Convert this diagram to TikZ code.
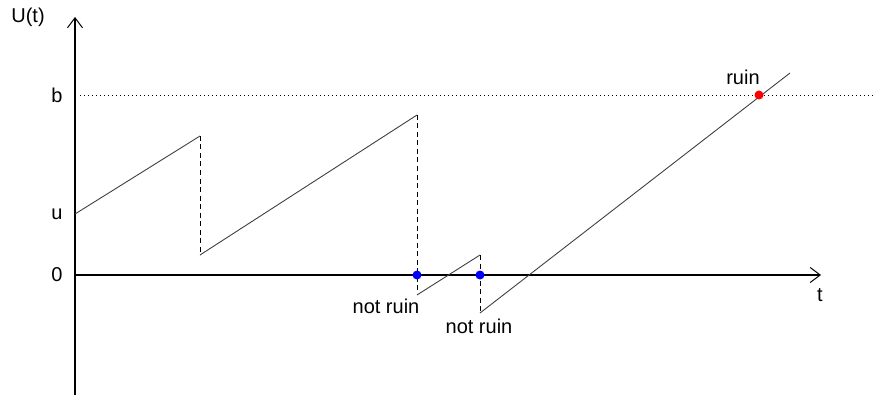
\documentclass[tikz,border=0pt]{standalone}
\usepackage{fontspec}
\setmainfont{Liberation Sans}
\usepackage{xcolor}
\usetikzlibrary{positioning, arrows.meta}

\begin{document}
\begin{tikzpicture}[x=1pt, y=1pt, every node/.style={font=\fontsize{20}{23}\selectfont, inner sep=0pt},
    axis/.style={line width=1.2pt, -{Straight Barb[length=10pt, width=15pt, line width=1pt]}},
    path/.style={line width=0.9pt, black!75},
    jump/.style={line width=0.9pt, dashed, dash pattern=on 5pt off 3.5pt},
    hit/.style={circle, inner sep=0pt, minimum size=9pt}]
    \useasboundingbox (0,0) rectangle (873,397);

    \coordinate (O) at (75,122);
    \coordinate (ytop) at (75,380);
    \coordinate (ybot) at (75,2);
    \coordinate (xend) at (821,122);

    \draw[axis] (ybot) -- (ytop);
    \draw[axis] (O) -- (xend);

    % barrier b
    \coordinate (bl) at (80,302);
    \coordinate (br) at (873,302);
    \draw[line width=0.9pt, dash pattern=on 1pt off 3pt] (bl) -- (br);

    \node (Ut) at (28,380) {U(t)};
    \node (lb) at (57,302) {b};
    \node (lu) at (57,183) {u};
    \node (l0) at (57,122) {0};
    \node (lt) at (820,102) {t};

    % surplus process
    \coordinate (p0) at (75,183);
    \coordinate (p1) at (200,261);
    \coordinate (p2) at (200,142);
    \coordinate (p3) at (417,282);
    \coordinate (p4) at (417,102);
    \coordinate (p5) at (480,142);
    \coordinate (p6) at (480,84);
    \coordinate (p7) at (790,324);

    \draw[path] (p0) -- (p1);
    \draw[jump] (p1) -- (p2);
    \draw[path] (p2) -- (p3);
    \draw[jump] (p3) -- (p4);
    \draw[path] (p4) -- (p5);
    \draw[jump] (p5) -- (p6);
    \draw[path] (p6) -- (p7);

    \node[hit, fill=blue] (h1) at (417,122) {};
    \node[hit, fill=blue] (h2) at (480,122) {};
    \node[hit, fill=red] (h3) at (759,302) {};

    \node (nr1) at (386,91) {not ruin};
    \node (nr2) at (479,71) {not ruin};
    \node (r) at (743,320) {ruin};
\end{tikzpicture}
\end{document}
